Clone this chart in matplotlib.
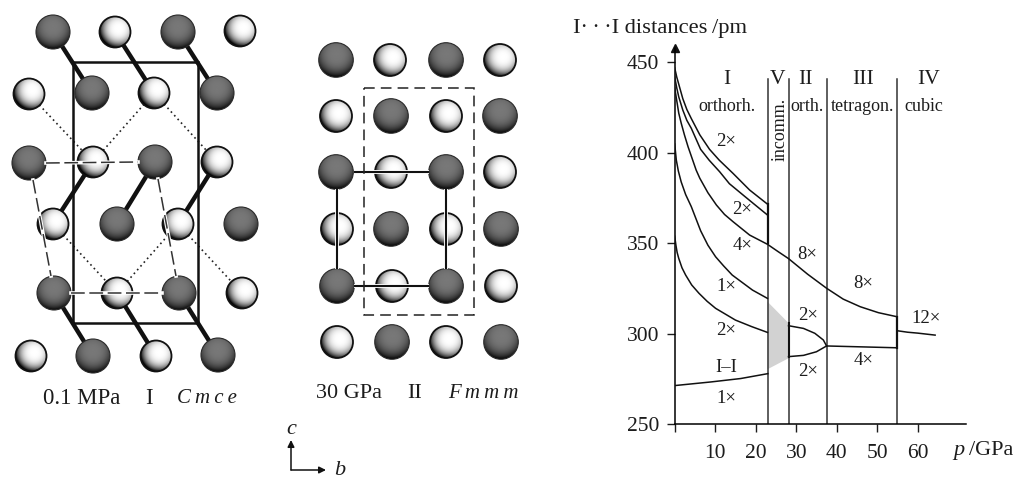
import numpy as np
import matplotlib
matplotlib.use('Agg')
import matplotlib.pyplot as plt
from matplotlib.patches import Circle, Rectangle

plt.rcParams['font.family'] = ['Liberation Serif', 'DejaVu Serif']
INK = '#1c1c1c'

# pressure / distance curves
p_a = [0, 0.5, 1, 2, 3, 4.1, 6.2, 8.6, 11, 14.4, 18.5, 22.9]
d_a = [447, 442, 438, 430, 424, 419, 410, 402, 396, 388.7, 379.5, 371.7]
p_b = [0, 0.5, 1, 2, 3, 4.1, 6.4, 8.5, 11.1, 13.5, 16.9, 20, 22.9]
d_b = [442, 436, 431, 423.7, 418, 413.6, 402, 396, 389.6, 383, 376.7, 371, 365.7]
p_c = [0, 0.5, 1, 1.6, 2.4, 3.3, 5.3, 6.2, 8.2, 10.3, 12.3, 14.4, 18.5, 22.9, 25.5, 28.1,
       32.8, 37.5, 41.6, 45.8, 50.3, 54.8]
d_c = [436, 429, 422, 416.5, 410, 403.4, 390.5, 386, 378, 371.2, 366, 362, 354.6, 349.5,
       345.5, 341.6, 333, 325.2, 319.2, 315, 311.7, 309.5]
p_d = [0, 0.4, 0.9, 1.6, 2.7, 4.1, 6.4, 8.2, 10.1, 12.1, 14.2, 19.2, 22.9]
d_d = [405, 396, 390, 384, 377, 370.3, 357, 349, 342.6, 337.5, 332.5, 324.2, 319.6]
p_e = [0, 0.3, 0.6, 1, 1.8, 2.7, 4.2, 6, 8, 10.1, 15, 19, 22.9]
d_e = [354, 349, 345, 341.7, 336.5, 332.5, 327, 322.4, 318, 314.1, 307.6, 304, 300.8]
p_ii = [0, 8.9, 16.3, 23]
d_ii = [271.4, 273.4, 275.3, 278]
p_up = [28.1, 31.8, 34.6, 36.7, 37.5]
d_up = [304.5, 303, 300.3, 296.6, 293.3]
p_lo = [28.1, 31.8, 35, 37.5]
d_lo = [287.4, 288.1, 290.1, 293.3]
p_iii = [37.5, 54.8]
d_iii = [293.3, 292.3]
p_iv = [55, 57.5, 60, 64.3]
d_iv = [301.7, 300.9, 300.4, 299.3]
p_shade = [22.9, 28.1, 28.1, 22.9]
d_shade = [317.8, 306, 286.5, 280.4]
phase_p = [23, 28.1, 37.5, 55]
phase_top = 440.8

x_ticks = [0, 10, 20, 30, 40, 50, 60]
x_labels = ['', '10', '20', '30', '40', '50', '60']
y_ticks = [250, 300, 350, 400, 450]

phase_names = ['I', 'V', 'II', 'III', 'IV']
phase_name_p = [12.8, 25.4, 32.3, 46.6, 62.8]
lattice_names = ['orthorh.', 'orth.', 'tetragon.', 'cubic']
lattice_p = [12.8, 32.6, 46.3, 61.6]
mult_labels = ['2×', '2×', '4×', '8×', '1×', '2×', 'I–I', '1×', '2×', '2×', '8×', '4×', '12×']
mult_p = [12.6, 16.7, 16.7, 32.8, 12.8, 12.8, 12.8, 12.8, 32.9, 32.9, 46.6, 46.6, 62]
mult_d = [406.4, 369, 349, 343.9, 326.4, 302, 281.6, 264, 310, 279.4, 327.7, 285, 308.5]

# atoms of the two structure drawings, in picture pixels
left_dark = [(53, 32), (178, 32), (92, 93), (217, 93), (29, 163), (155, 162),
             (117, 224), (241, 224), (54, 293), (179, 293), (93, 356), (218, 355)]
left_light = [(115, 32), (240, 31), (29, 94), (154, 93), (93, 162), (217, 162),
              (53, 224), (178, 224), (117, 293), (242, 293), (31, 356), (156, 356)]
left_bonds = [((53, 32), (92, 93)), ((115, 32), (154, 93)), ((178, 32), (217, 93)),
              ((93, 162), (53, 224)), ((155, 162), (117, 224)), ((217, 162), (178, 224)),
              ((54, 293), (93, 356)), ((117, 293), (156, 356)), ((179, 293), (218, 355))]
left_dotted = [((29, 94), (93, 162)), ((154, 93), (93, 162)), ((154, 93), (217, 162)),
               ((53, 224), (117, 293)), ((178, 224), (117, 293)), ((178, 224), (242, 293))]
left_dashed = [((46, 163), (138, 162)), ((71, 293), (162, 293)),
               ((33, 180), (51, 276)), ((158, 179), (176, 276))]
mid_dark = [(336, 60), (446, 60), (391, 116), (500, 116), (336, 172), (446, 172),
            (391, 229), (501, 229), (337, 286), (446, 286), (392, 342), (501, 342)]
mid_light = [(390, 60), (500, 60), (336, 116), (446, 116), (391, 172), (500, 172),
             (337, 229), (446, 229), (392, 286), (501, 286), (337, 342), (446, 342)]


def sphere_image(base, shade, cx, cy, n=64):
    yy, xx = np.mgrid[-1:1:n * 1j, -1:1:n * 1j]
    dist = np.sqrt((xx - cx) ** 2 + (yy - cy) ** 2)
    return np.clip(base - shade * dist ** 3, 0, 1)


dark_img = sphere_image(0.47, 0.2, 0, -0.3)
light_img = sphere_image(1.0, 0.5, 0.2, -0.2)


def draw_atom(ax, x, y, r, img, edge, lw):
    im = ax.imshow(img, extent=(x - r, x + r, y + r, y - r), cmap='gray', vmin=0, vmax=1,
                   aspect='auto', zorder=3, interpolation='bilinear')
    im.set_clip_path(Circle((x, y), r, transform=ax.transData))
    ax.add_patch(Circle((x, y), r, fill=False, ec=edge, lw=lw, zorder=3.1))


fig = plt.figure(figsize=(10.17, 4.86), dpi=100)

# structure drawings
bg = fig.add_axes([0, 0, 1, 1])
for a, b in left_bonds:
    bg.plot([a[0], b[0]], [a[1], b[1]], color='#111111', lw=3.2, zorder=2, solid_capstyle='butt')
for a, b in left_dotted:
    bg.plot([a[0], b[0]], [a[1], b[1]], color='#222222', lw=1.2, ls=(0, (1, 2)), zorder=2)
bg.add_patch(Rectangle((73, 62), 125, 261, fill=False, ec='#111111', lw=1.8, zorder=2.5))
for x, y in left_dark:
    draw_atom(bg, x, y, 17, dark_img, '#2a2a2a', 0.8)
for x, y in left_light:
    draw_atom(bg, x, y, 15.5, light_img, '#111111', 1.3)
for a, b in left_dashed:
    bg.plot([a[0], b[0]], [a[1], b[1]], color='white', lw=2.6, zorder=4)
    bg.plot([a[0], b[0]], [a[1], b[1]], color='#333333', lw=1.1, ls=(0, (9, 3)), zorder=4.1)

for x, y in mid_dark:
    draw_atom(bg, x, y, 17.3, dark_img, '#2a2a2a', 0.8)
for x, y in mid_light:
    draw_atom(bg, x, y, 16, light_img, '#111111', 1.3)
for xs, ys in [([354, 429], [172, 172]), ([354, 429], [286, 286]),
               ([337, 337], [189, 269]), ([446, 446], [189, 269])]:
    bg.plot(xs, ys, color='white', lw=2.8, zorder=4, solid_capstyle='butt')
    bg.plot(xs, ys, color='#111111', lw=1.5, zorder=4.1, solid_capstyle='butt')
bg.add_patch(Rectangle((363.5, 88.5), 110.5, 226, fill=False, ec='#222222', lw=1.1,
                       ls=(0, (7, 4)), zorder=4.2))

bg.text(43, 398, '0.1 MPa', fontsize=16.5, ha='left', va='center', color=INK)
bg.text(149, 398, 'I', fontsize=16.5, ha='center', va='center', color=INK)
bg.text(177, 398, 'C\u2009m\u2009c\u2009e', fontsize=15, style='italic', ha='left', va='center', color=INK)
bg.text(316, 393, '30 GPa', fontsize=16, ha='left', va='center', color=INK)
bg.text(415, 393, 'II', fontsize=16, ha='center', va='center', color=INK)
bg.text(448, 393, 'F\u2009m\u2009m\u2009m', fontsize=15, style='italic', ha='left', va='center', color=INK)

bg.annotate('', xy=(291, 440), xytext=(291, 470), zorder=5,
            arrowprops=dict(arrowstyle='-|>', color='#111111', lw=1.1, shrinkA=0, shrinkB=0))
bg.annotate('', xy=(326, 470), xytext=(291, 470), zorder=5,
            arrowprops=dict(arrowstyle='-|>', color='#111111', lw=1.1, shrinkA=0, shrinkB=0))
bg.text(291, 429, 'c', fontsize=16, style='italic', ha='center', va='center', color=INK)
bg.text(340, 470, 'b', fontsize=16, style='italic', ha='center', va='center', color=INK)

bg.set_xlim(0, 1017)
bg.set_ylim(486, 0)
bg.axis('off')

# pressure chart, axes placed so p=0 / 250 pm sit at the corner of the drawn axes
ax = fig.add_axes([674.7 / 1017, (486 - 424.3) / 486, 291.6 / 1017, 376.3 / 486])
ax.patch.set_alpha(0)
ax.set_xlim(0, 72)
ax.set_ylim(250, 458)
ax.spines['top'].set_visible(False)
ax.spines['right'].set_visible(False)
ax.spines['left'].set_linewidth(1.1)
ax.spines['bottom'].set_linewidth(1.1)
ax.set_xticks(x_ticks)
ax.set_xticklabels(x_labels)
ax.set_yticks(y_ticks)
ax.tick_params(axis='both', length=6, width=1, labelsize=15.5, colors=INK)
ax.tick_params(axis='x', pad=8)
ax.tick_params(axis='y', pad=5)
ax.plot(0, 1, '^', color='#111111', ms=6, transform=ax.get_xaxis_transform(), clip_on=False)
ax.plot(1, 0, '>', color='#111111', ms=6, transform=ax.get_yaxis_transform(), clip_on=False)

ax.fill(p_shade, d_shade, color='#d2d2d2', lw=0, zorder=1)
for p in phase_p:
    ax.plot([p, p], [250, phase_top], color='#333333', lw=1.1, zorder=2)
curves = [(p_a, d_a), (p_b, d_b), (p_c, d_c), (p_d, d_d), (p_e, d_e), (p_ii, d_ii),
          (p_up, d_up), (p_lo, d_lo), (p_iii, d_iii), (p_iv, d_iv)]
for ps, ds in curves:
    ax.plot(ps, ds, color='#111111', lw=1.1, zorder=3)
ax.plot([23, 23], [350, 372], color='#111111', lw=1.6, zorder=3)
ax.plot([55, 55], [292.3, 309.5], color='#111111', lw=1.6, zorder=3)
ax.plot([28.1, 28.1], [287.4, 306], color='#111111', lw=1.5, zorder=3)

for name, p in zip(phase_names, phase_name_p):
    ax.text(p, 440.4, name, fontsize=15.5, ha='center', va='center', color=INK)
for name, p in zip(lattice_names, lattice_p):
    ax.text(p, 425.7, name, fontsize=13, ha='center', va='center', color=INK)
ax.text(26, 413, 'incomm.', fontsize=13, rotation=90, ha='center', va='center', color=INK)
for label, p, d in zip(mult_labels, mult_p, mult_d):
    ax.text(p, d, label, fontsize=13.5, ha='center', va='center', color=INK)

fig.text(573 / 1017, 1 - 28 / 486, 'I·\u2009·\u2009·I distances\u2009/pm', fontsize=16.2, ha='left', va='center', color=INK)
fig.text(953 / 1017, 1 - 450 / 486, 'p', fontsize=16, style='italic', ha='left', va='center', color=INK)
fig.text(969 / 1017, 1 - 450 / 486, '/GPa', fontsize=16, ha='left', va='center', color=INK)

fig.savefig('out.png', dpi=100)
